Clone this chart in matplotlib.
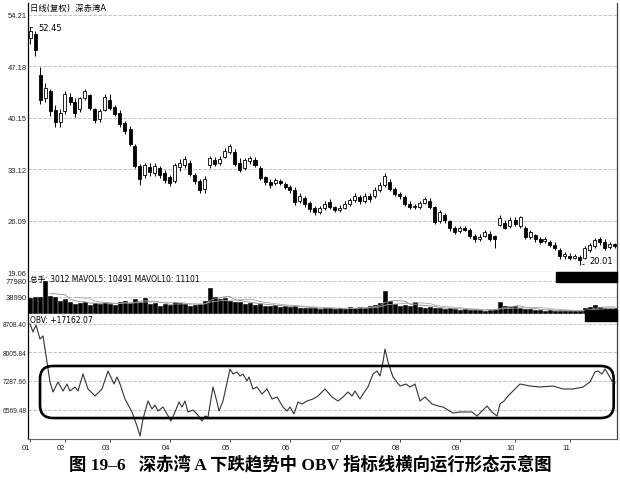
import matplotlib
matplotlib.use('Agg')
import matplotlib.pyplot as plt
import numpy as np
import pandas as pd
from matplotlib.patches import FancyBboxPatch, Rectangle

plt.rcParams['font.family'] = ['DejaVu Sans', 'Noto Sans CJK SC']

# daily candles (price, yuan)
opens = np.array([51.0, 51.5, 46.0, 42.8, 43.8, 41.2, 39.5, 41.0, 43.0, 42.3,
                  41.3, 42.8, 43.2, 41.3, 40.0, 41.2, 42.6, 41.6, 40.8, 39.4,
                  38.6, 36.2, 33.5, 32.3, 33.4, 32.6, 33.2, 32.6, 32.0, 31.5,
                  33.4, 33.6, 34.0, 32.3, 31.5, 30.4, 33.6, 34.3, 33.9, 34.8,
                  35.5, 35.4, 34.0, 33.3, 34.2, 34.4, 33.3, 32.0, 31.4, 31.2,
                  31.5, 31.1, 30.6, 30.3, 28.8, 29.2, 28.5, 27.8, 27.3, 27.8,
                  28.6, 27.9, 27.5, 27.8, 28.4, 28.9, 29.3, 28.8, 29.4, 29.4,
                  30.3, 30.9, 31.4, 30.4, 29.7, 29.3, 28.4, 27.9, 28.0, 28.5,
                  28.8, 27.9, 26.0, 26.8, 26.0, 25.0, 24.6, 25.1, 24.8, 24.0,
                  23.6, 24.0, 24.3, 24.0, 25.5, 25.8, 25.4, 26.2, 25.4, 25.0,
                  23.9, 24.1, 23.5, 23.3, 23.2, 22.8, 22.1, 21.2, 21.3, 21.0,
                  21.1, 21.0, 22.0, 22.6, 23.5, 23.2, 22.5, 22.9])
highs = np.array([52.45, 52.0, 47.0, 44.8, 44.0, 41.8, 41.3, 43.7, 43.5, 42.8,
                  43.0, 44.1, 43.4, 41.5, 41.3, 43.3, 43.4, 41.9, 41.2, 39.7,
                  39.0, 36.5, 33.8, 34.0, 34.0, 34.0, 33.5, 33.0, 32.3, 33.9,
                  34.5, 34.9, 34.3, 32.6, 31.8, 32.1, 34.9, 34.8, 34.9, 36.0,
                  36.6, 35.8, 34.6, 34.6, 34.9, 34.8, 33.5, 32.2, 31.7, 31.9,
                  31.8, 31.3, 30.9, 30.6, 29.8, 29.5, 28.8, 28.1, 28.1, 28.8,
                  29.0, 28.1, 28.2, 28.7, 29.2, 29.8, 29.6, 29.9, 29.8, 30.6,
                  31.4, 32.6, 31.7, 30.7, 30.0, 29.6, 28.7, 28.4, 28.8, 29.3,
                  29.1, 28.1, 27.5, 27.1, 26.2, 25.3, 25.4, 25.4, 25.0, 24.2,
                  24.2, 24.8, 24.6, 24.1, 26.9, 26.1, 26.5, 26.6, 26.7, 25.3,
                  24.8, 24.3, 23.8, 23.8, 23.4, 23.1, 22.3, 21.8, 21.6, 21.5,
                  21.4, 22.6, 23.0, 23.7, 23.9, 23.5, 23.2, 23.0])
lows = np.array([50.2, 48.5, 42.0, 42.3, 40.3, 38.9, 38.8, 40.6, 41.8, 40.2,
                 40.9, 42.5, 41.2, 39.4, 39.6, 41.0, 41.2, 40.3, 38.9, 37.9,
                 36.2, 33.2, 31.0, 31.9, 32.2, 32.1, 31.9, 31.2, 30.8, 31.2,
                 32.8, 33.3, 32.1, 31.1, 29.9, 29.8, 33.3, 33.5, 33.6, 34.6,
                 35.2, 33.5, 32.7, 33.0, 33.8, 33.4, 31.6, 31.0, 30.5, 30.9,
                 30.9, 30.4, 29.9, 28.2, 28.5, 28.0, 27.3, 26.9, 27.0, 27.5,
                 27.7, 27.2, 27.2, 27.6, 28.1, 28.6, 28.4, 28.5, 28.6, 29.1,
                 30.0, 30.6, 30.1, 29.4, 29.0, 28.1, 27.7, 27.6, 27.7, 28.3,
                 27.7, 25.6, 25.7, 25.8, 24.7, 24.2, 24.4, 24.6, 23.7, 23.2,
                 23.3, 23.8, 23.3, 22.3, 25.3, 24.9, 25.1, 25.3, 25.1, 23.6,
                 23.6, 23.2, 22.9, 23.0, 22.5, 22.1, 20.9, 20.9, 20.7, 20.8,
                 20.01, 20.8, 21.8, 22.4, 22.8, 22.1, 22.2, 22.3])
closes = np.array([52.0, 49.3, 42.5, 44.2, 41.0, 39.5, 40.8, 43.3, 42.2, 40.7,
                   42.8, 43.7, 41.5, 39.8, 41.0, 42.9, 41.5, 40.6, 39.3, 38.3,
                   36.5, 33.5, 31.8, 33.6, 32.7, 33.5, 32.3, 31.6, 31.2, 33.6,
                   34.0, 34.5, 32.4, 31.5, 30.3, 31.8, 34.6, 33.8, 34.5, 35.6,
                   36.3, 33.8, 33.0, 34.3, 34.6, 33.7, 31.9, 31.4, 30.9, 31.6,
                   31.2, 30.7, 30.2, 28.6, 29.5, 28.3, 27.6, 27.2, 27.8, 28.4,
                   28.0, 27.5, 27.8, 28.4, 28.9, 29.4, 28.7, 29.5, 29.0, 30.3,
                   31.0, 32.1, 30.4, 29.7, 29.4, 28.4, 28.0, 28.1, 28.5, 29.0,
                   28.0, 25.9, 27.2, 26.1, 25.0, 24.5, 25.1, 24.8, 24.0, 23.5,
                   23.9, 24.5, 23.6, 23.6, 26.4, 25.1, 26.2, 25.6, 26.5, 23.9,
                   24.5, 23.5, 23.2, 23.5, 22.8, 22.4, 21.2, 21.5, 21.0, 21.2,
                   20.7, 22.3, 22.7, 23.4, 23.1, 22.4, 22.9, 22.6])
volumes = np.array([36000, 40000, 38000, 78000, 42000, 38000, 30000, 34000, 26000, 22000,
                    25000, 28000, 20000, 24000, 21000, 27000, 23000, 19000, 26000, 30000,
                    24000, 33000, 28000, 36000, 22000, 25000, 18000, 21000, 19000, 26000,
                    24000, 22000, 18000, 20000, 23000, 30000, 62000, 38000, 33000, 36000,
                    30000, 26000, 28000, 22000, 25000, 20000, 22000, 18000, 16000, 19000,
                    15000, 17000, 14000, 18000, 12000, 13000, 11000, 12000, 10000, 13000,
                    11000, 9000, 12000, 10000, 14000, 12000, 15000, 13000, 17000, 20000,
                    24000, 54000, 30000, 22000, 18000, 20000, 16000, 27000, 15000, 13000,
                    14000, 12000, 11000, 10000, 11000, 9000, 8000, 9000, 7000, 8000,
                    7000, 6000, 7000, 9000, 27000, 18000, 14000, 16000, 12000, 10000,
                    9000, 8000, 7000, 6000, 7000, 6000, 5000, 6000, 5000, 5000,
                    6000, 12000, 14000, 20000, 15000, 12000, 13000, 11000])

# OBV line (day index, value)
obv_day = [0, 0.6, 1.2, 2.0, 2.6, 3.4, 4.0, 4.6, 5.6, 6.6,
           7.4, 8.0, 9.0, 9.6, 10.6, 11.6, 13.0, 14.4, 15.6, 16.8,
           17.4, 18.0, 19.0, 20.4, 21.4, 22.0, 22.6, 23.6, 24.4, 25.0,
           25.6, 26.6, 27.4, 28.2, 29.0, 29.8, 30.4, 31.0, 31.6, 32.6,
           33.4, 34.4, 35.0, 35.6, 36.6, 37.4, 37.8, 38.6, 40.0, 40.6,
           41.4, 42.0, 42.6, 43.4, 43.8, 44.6, 45.4, 46.4, 47.4, 48.4,
           49.4, 50.6, 51.4, 52.0, 52.8, 53.6, 54.4, 55.4, 56.6, 57.6,
           59.0, 60.4, 61.6, 62.6, 63.6, 64.4, 65.0, 66.0, 67.0, 67.6,
           68.6, 69.4, 70.0, 70.6, 71.0, 71.6, 72.6, 74.0, 75.2, 76.0,
           77.0, 78.0, 79.0, 80.4, 81.6, 82.6, 84.6, 86.0, 87.4, 88.4,
           89.4, 90.4, 91.4, 92.4, 93.4, 94.0, 94.8, 95.6, 96.6, 98.0,
           100.0, 102.0, 104.6, 106.6, 108.6, 110.6, 112.0, 113.0, 113.6, 114.4,
           115.0, 115.6, 116.4, 117.0]
obv_value = [8708.4, 8507, 8682, 8332, 8407, 7757, 7257, 7007, 7257, 7032,
             7207, 7032, 7132, 7032, 7457, 7082, 6907, 7082, 7532, 7207,
             7382, 7207, 6832, 6507, 6157, 5907, 6332, 6782, 6582, 6682,
             6532, 6632, 6457, 6282, 6507, 6757, 6632, 6782, 6507, 6557,
             6457, 6282, 6407, 6382, 7132, 6757, 6532, 6782, 7582, 7457,
             7507, 7407, 7457, 7282, 7382, 7082, 7132, 6957, 7082, 6832,
             6882, 6632, 6532, 6632, 6457, 6757, 6707, 6782, 6832, 6907,
             7082, 6882, 6782, 6882, 7007, 6907, 7032, 6832, 7032, 7132,
             7457, 7532, 7407, 7757, 8082, 7757, 7382, 7157, 7207, 7132,
             7207, 6782, 6882, 6707, 6657, 6632, 6482, 6507, 6507, 6507,
             6407, 6532, 6657, 6507, 6407, 6707, 6782, 6907, 7032, 7207,
             7157, 7132, 7157, 7082, 7082, 7132, 7257, 7507, 7532, 7457,
             7582, 7457, 7282, 7232]

month_days = [0, 7, 16, 28, 40, 52, 62, 74, 86, 97, 108]
month_labels = ['01', '02', '03', '04', '05', '06', '07', '08', '09', '10', '11']
price_ticks = [19.06, 26.09, 33.12, 40.15, 47.18, 54.21]
vol_ticks = [38990, 77980]
obv_ticks = [6569.48, 7287.66, 8005.84, 8708.40]

fig = plt.figure(figsize=(6.2, 4.85), dpi=100)
W, H = 620, 485
ax_p = fig.add_axes([28 / W, (H - 273) / H, 589 / W, 269 / H])
ax_v = fig.add_axes([28 / W, (H - 316) / H, 589 / W, 43 / H])
ax_o = fig.add_axes([28 / W, (H - 440) / H, 589 / W, 124 / H])

days = np.arange(len(closes))
up = closes >= opens
fill = np.where(up, 'white', 'black')

for ax in (ax_p, ax_v, ax_o):
    ax.set_xlim(-0.4, 117.4)
    ax.spines['top'].set_visible(False)
    ax.spines['left'].set_color('black')
    ax.spines['left'].set_linewidth(0.9)
    ax.spines['right'].set_color('#444444')
    ax.spines['right'].set_linewidth(0.9)
    ax.spines['bottom'].set_color('#666666')
    ax.spines['bottom'].set_linewidth(0.8)
    ax.yaxis.grid(True, ls=(0, (4, 2)), color='#b5b5b5', lw=0.6)
    ax.set_axisbelow(True)
    ax.tick_params(axis='y', length=0, pad=1, colors='#222222')

tick_font = dict(family='Liberation Sans', size=5.5)

# price candles
ax_p.vlines(days, lows, highs, color='black', lw=0.7, zorder=2)
ax_p.bar(days, np.maximum(np.abs(closes - opens), 0.08), bottom=np.minimum(opens, closes),
         width=0.6, color=fill, edgecolor='black', lw=0.6, zorder=3)
ax_p.set_ylim(19.06, 55.78)
ax_p.set_yticks(price_ticks)
ax_p.set_yticklabels(['%.2f' % t for t in price_ticks], fontdict=tick_font)
ax_p.set_xticks([])
ax_p.text(0.004, 0.982, '日线(复权)  深赤湾A', transform=ax_p.transAxes, fontsize=6,
          va='center', ha='left')
hi = int(np.argmax(highs))
lo = int(np.argmin(lows))
ax_p.annotate('%.2f' % highs[hi], xy=(hi, highs[hi]), xytext=(6, 0), textcoords='offset points',
              fontsize=6, va='center', arrowprops=dict(arrowstyle='-', color='black', lw=0.6))
ax_p.annotate('%.2f' % lows[lo], xy=(lo, lows[lo]), xytext=(7, 3), textcoords='offset points',
              fontsize=6, va='center', arrowprops=dict(arrowstyle='-', color='black', lw=0.6))

# volume
ax_v.bar(days, volumes, width=0.7, color='black', edgecolor='black', lw=0.4, zorder=3)
vol_s = pd.Series(volumes)
ax_v.plot(days, vol_s.rolling(5).mean(), color='#888888', lw=0.6, zorder=4)
ax_v.plot(days, vol_s.rolling(10).mean(), color='#aaaaaa', lw=0.6, zorder=4)
ax_v.set_ylim(-4900, 99900)
ax_v.set_yticks(vol_ticks)
ax_v.set_yticklabels([str(t) for t in vol_ticks], fontdict=tick_font)
ax_v.set_xticks([])
ax_v.text(0.004, 0.86, '总手: 3012 MAVOL5: 10491 MAVOL10: 11101', transform=ax_v.transAxes,
          fontsize=5.5, va='center', ha='left')

# OBV
ax_o.plot(obv_day, obv_value, color='#333333', lw=0.8, zorder=3)
ax_o.set_ylim(5832, 8932)
ax_o.set_yticks(obv_ticks)
ax_o.set_yticklabels(['%.2f' % t for t in obv_ticks], fontdict=dict(family='Liberation Sans', size=4.8))
ax_o.set_xticks(month_days)
ax_o.set_xticklabels(month_labels, fontdict=tick_font)
ax_o.tick_params(axis='x', length=2.5, width=0.6, pad=1, colors='#222222')
for lbl in ax_o.get_xticklabels():
    lbl.set_ha('right')
ax_o.text(0.004, 0.965, 'OBV: +17162.07', transform=ax_o.transAxes, fontsize=5.5,
          va='center', ha='left')

# highlight of the sideways OBV band
box = FancyBboxPatch((0.0204, 0.169), 0.974, 0.42, transform=ax_o.transAxes,
                     boxstyle='round,pad=0,rounding_size=0.022', mutation_aspect=589 / 124,
                     fill=False, edgecolor='black', lw=1.9, clip_on=False, zorder=5)
ax_o.add_patch(box)

# dark boxes of the trading software
fig.add_artist(Rectangle((556 / W, (H - 283) / H), 61 / W, 10 / H, transform=fig.transFigure,
                         color='black'))
fig.add_artist(Rectangle((585 / W, (H - 322) / H), 32 / W, 11 / H, transform=fig.transFigure,
                         color='black'))

fig.text(0.5, 20 / H, '图 19–6   深赤湾 A 下跌趋势中 OBV 指标线横向运行形态示意图',
         ha='center', va='center', fontsize=12.5, fontweight='bold',
         family=['Liberation Serif', 'Noto Sans CJK SC'])

fig.savefig('out.png', dpi=100)
